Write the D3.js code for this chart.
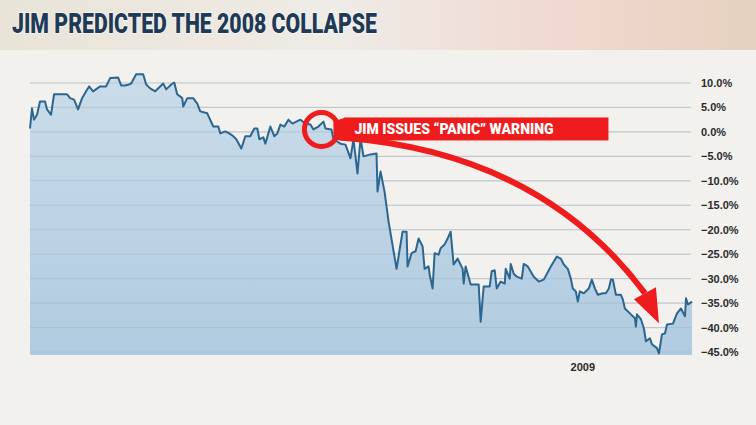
<!DOCTYPE html>
<html><head><meta charset="utf-8">
<script src="https://cdn.jsdelivr.net/npm/d3@7"></script>
<style>body{margin:0;background:#f3f1ee}svg{display:block}</style>
</head><body><div id="chart"></div>
<script>
// [session index (0..330), % change since start]
const series = [[0,0.7],[1,4.8],[2,2.5],[3.5,3.5],[5,6.2],[7.5,6.2],[8.5,4.6],[10.5,3.5],[12,7.7],[18.5,7.7],[20,6.9],[22,6.6],[24,4.6],[26,6.9],[28,8.3],[29.5,9.3],[31.5,8.3],[35,9.3],[38,9.3],[40,11],[44,11.1],[45.5,9.5],[47.5,9.5],[49.5,9.7],[50.5,9.9],[53,11.8],[56.5,11.8],[58,9.7],[60,8.9],[62.5,8.3],[65,9.3],[66.5,9.9],[68,8.7],[70.5,9.7],[72,10.1],[73.5,7.7],[76,6.9],[76.5,5.2],[78.5,6.9],[81.5,6.9],[83.5,5.8],[85,4.2],[88.5,3.8],[91.5,1.1],[94,1.1],[95,-0.3],[97.5,0.1],[99.5,-0.3],[101.5,-0.9],[103,-1.5],[105.5,-3.4],[107.5,-0.9],[110,-0.9],[112,0.7],[113.5,0.7],[114.5,-1.5],[116.5,-1.1],[117.5,-2.4],[120,1.1],[122,-0.9],[123.5,-0.3],[125,1.5],[127,1.1],[129,2.5],[131,1.7],[133,2.1],[135,2.5],[137.5,1.7],[140,1.5],[141.5,0.5],[144,1.1],[146.5,2.1],[147.5,0.7],[150.5,0.5],[151.5,-1.5],[155,-2.4],[157.5,-2.6],[160,-5.4],[161.5,-1.5],[163.5,-8.5],[165,-1.3],[166.5,-5],[170,-4.6],[173,-4.4],[173.5,-12.2],[175,-8.1],[177,-12.2],[179,-18.3],[183,-28],[186,-20.4],[188,-20.4],[188.5,-27.5],[190.5,-24.8],[192.5,-24.4],[194,-21.8],[196,-23.4],[197,-28],[199,-27.5],[199.5,-29.1],[201,-32],[202,-24.8],[204,-25.1],[205,-23.8],[207,-23],[208.5,-21.8],[210,-20.4],[211.5,-27.1],[213.5,-25.9],[216,-28],[216.5,-31],[217.5,-27.5],[220,-31.2],[224,-31.2],[225,-38.8],[226.5,-31.6],[229.5,-31.6],[230.5,-28.5],[232,-28.3],[233,-32],[235,-30.6],[237,-31],[237.5,-28],[239.5,-30],[240,-27],[241.5,-29],[243,-29.6],[245.5,-30],[246.5,-27],[248.5,-27.5],[251.5,-29.6],[254,-30.6],[256.5,-30.2],[260,-27.5],[263,-25.5],[265,-25.9],[266.5,-27.1],[268.5,-28],[270,-30],[271,-32],[272.5,-32.6],[273.5,-34.7],[274.5,-32.6],[276.5,-33],[279,-32],[280.5,-30.2],[282,-32],[283.5,-33.3],[286,-33],[287.5,-33],[289,-32],[290,-30.2],[291,-30.2],[292.5,-33.3],[295,-33.3],[296,-34.3],[297,-36.1],[299.5,-37.1],[302,-38.1],[302.5,-39.8],[303,-37.3],[305,-38.3],[306.5,-40.2],[307.5,-42.8],[309.5,-42.2],[310.5,-43.4],[313,-44.2],[314,-45.3],[315.5,-41.4],[317,-41.2],[318,-39.4],[321,-39.2],[323,-37.1],[325,-36.1],[327,-37.7],[327.5,-34],[328.5,-35.3],[330.5,-34.7]];
const yTicks = [10,5,0,-5,-10,-15,-20,-25,-30,-35,-40,-45];
const xTicks = [{day:276,label:"2009"}];
const title = "JIM PREDICTED THE 2008 COLLAPSE";
const note = "JIM ISSUES \u201CPANIC\u201D WARNING";
const noteDay = 145.5, noteValue = 0.5;
const arrowEndDay = 307, arrowEndValue = -33;

const W = 756, H = 425;
const svg = d3.select('#chart').append('svg').attr('width', W).attr('height', H);
const defs = svg.append('defs');
const hg = defs.append('linearGradient').attr('id','hdr');
hg.append('stop').attr('offset','0%').attr('stop-color','#e9e4d8');
hg.append('stop').attr('offset','45%').attr('stop-color','#efebe6');
hg.append('stop').attr('offset','75%').attr('stop-color','#f0d8cf');
hg.append('stop').attr('offset','100%').attr('stop-color','#e6d2c0');
const ag = defs.append('linearGradient').attr('id','area').attr('x1',0).attr('x2',0).attr('y1',0).attr('y2',1);
ag.append('stop').attr('offset','0%').attr('stop-color','#c8dbe9');
ag.append('stop').attr('offset','100%').attr('stop-color','#adc9df');

svg.append('rect').attr('width',W).attr('height',H).attr('fill','#f3f1ee');
svg.append('rect').attr('width',W).attr('height',50).attr('fill','url(#hdr)');

svg.append('text').attr('x',12).attr('y',33).text(title)
  .attr('font-family','Roboto, "Liberation Sans", sans-serif').attr('font-weight',900)
  .attr('font-size',27).attr('textLength',365).attr('lengthAdjust','spacingAndGlyphs')
  .attr('fill','#203a55')
  .attr('stroke','#ffffff').attr('stroke-width',1.2).attr('paint-order','stroke');

const x = d3.scaleLinear().domain([0,330]).range([30,691]);
const y = d3.scaleLinear().domain([10,-45]).range([83,352]);

const g = svg.append('g');
g.selectAll('line.grid').data(yTicks).join('line').attr('class','grid')
  .attr('x1',30).attr('x2',691).attr('y1',d=>y(d)).attr('y2',d=>y(d))
  .attr('stroke','#d9d7d4').attr('stroke-width',1.2);

g.append('path').datum(series).attr('fill','url(#area)').attr('opacity',0.95)
  .attr('d', d3.area().x(d=>x(d[0])).y0(y(-45.6)).y1(d=>y(d[1])));
g.selectAll('line.grid2').data(yTicks).join('line').attr('class','grid2')
  .attr('x1',30).attr('x2',691).attr('y1',d=>y(d)).attr('y2',d=>y(d))
  .attr('stroke','#9fb8cc').attr('stroke-opacity',0.5).attr('stroke-width',1);
g.append('path').datum(series).attr('fill','none').attr('stroke','#2b6690').attr('stroke-width',2)
  .attr('stroke-linejoin','round')
  .attr('d', d3.line().x(d=>x(d[0])).y(d=>y(d[1])));

const yAxis = d3.axisRight(y).tickValues(yTicks).tickSize(0).tickPadding(0)
  .tickFormat(d=>d3.format('.1f')(d)+'%');
const ya = svg.append('g').attr('transform','translate(701,0)').call(yAxis);
ya.select('.domain').remove();
ya.selectAll('text').attr('font-family','"Liberation Sans", Arial, sans-serif').attr('font-size',11)
  .attr('font-weight','bold').attr('fill','#2a2a2a');

svg.selectAll('text.xt').data(xTicks).join('text').attr('class','xt')
  .attr('x',d=>x(d.day)).attr('y',371).attr('text-anchor','middle').text(d=>d.label)
  .attr('font-family','"Liberation Sans", Arial, sans-serif').attr('font-size',11)
  .attr('font-weight','bold').attr('fill','#2a2a2a');

// annotation
const cx = x(noteDay), cy = y(noteValue);
const ann = svg.append('g');
const sx = cx+18, sy = cy+8;
const ex = x(arrowEndDay), ey = y(arrowEndValue);
ann.append('path').attr('d',`M${sx},${sy} Q${sx+200},${sy+14} ${ex},${ey}`)
  .attr('fill','none').attr('stroke','#ee1c1c').attr('stroke-width',6);
ann.append('path')
  .attr('d',`M${ex-11},${ey+6} L${ex+14},${ey+30} L${ex+11},${ey-6} Z`)
  .attr('fill','#ee1c1c');
ann.append('path').attr('d',`M${cx+12},${cy-8} L${cx+24},${cy-12} L${cx+24},${cy+11} L${cx+12},${cy+10} Z`).attr('fill','#ee1c1c');
ann.append('rect').attr('x',cx+23).attr('y',cy-12).attr('width',264).attr('height',23).attr('fill','#ee1c1c');
ann.append('text').attr('x',cx+33).attr('y',cy+5).text(note)
  .attr('font-family','Roboto, "Liberation Sans", sans-serif').attr('font-weight',900)
  .attr('font-size',14).attr('fill','#fff');
ann.append('circle').attr('cx',cx).attr('cy',cy).attr('r',17)
  .attr('fill','none').attr('stroke','#ee1c1c').attr('stroke-width',5);
</script></body></html>
